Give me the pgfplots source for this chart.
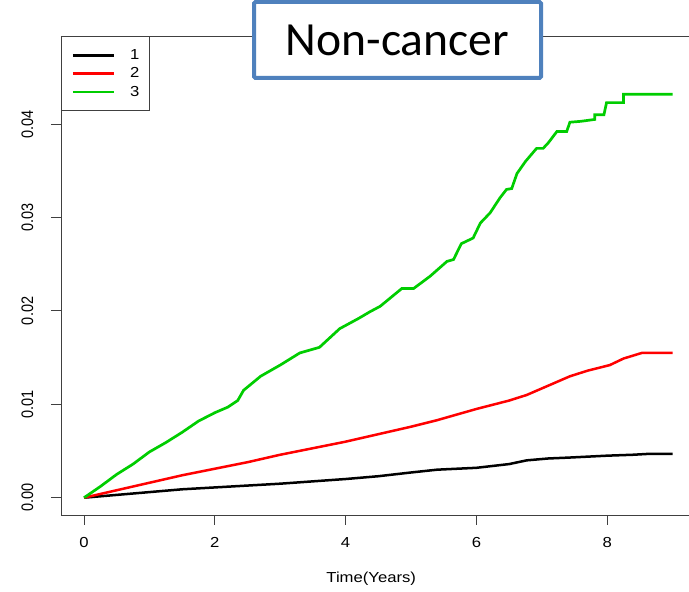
\documentclass[border=0pt]{standalone}
\usepackage{graphicx}
\usepackage{pgfplots}
\pgfplotsset{compat=1.18}
\usepackage{fontspec}
\setmainfont{Liberation Sans}
\newfontfamily\carlito{Carlito}
\definecolor{rgreen}{RGB}{0,205,0}
\definecolor{tblue}{RGB}{79,129,189}
\definecolor{axgray}{RGB}{64,64,64}
\newcommand{\sx}[1]{\scalebox{1.15}[1]{#1}}
\newcommand{\sy}[1]{\scalebox{1}[1.15]{#1}}
\newcommand{\lfont}{\fontsize{14.5bp}{17bp}\selectfont}
\begin{document}
\begin{tikzpicture}
\path[use as bounding box] (0,0) rectangle (689bp,592bp);
\begin{axis}[
  at={(61bp,77bp)}, anchor=south west, scale only axis,
  width=628bp, height=478.5bp,
  xmin=-0.352, xmax=9.251, ymin=-0.001852, ymax=0.04938,
  scaled y ticks=false, scaled x ticks=false,
  axis x line*=box, axis y line*=left,
  axis line style={axgray, line width=0.9bp},
  tick style={axgray, line width=0.9bp},
  tick align=outside, major tick length=10bp,
  xtick pos=left, ytick pos=left,
  xtick={0,2,4,6,8}, xticklabels={\sx{0},\sx{2},\sx{4},\sx{6},\sx{8}},
  ytick={0,0.01,0.02,0.03,0.04},
  yticklabels={\sy{0.00},\sy{0.01},\sy{0.02},\sy{0.03},\sy{0.04}},
  ticklabel style={font=\lfont},
  xticklabel style={anchor=center, yshift=-17.3bp},
  yticklabel style={anchor=center, xshift=-23.7bp, rotate=90},
  xlabel={\sx{Time(Years)}},
  xlabel style={at={(axis description cs:0.494,-0.134)}, anchor=center, font=\lfont},
  legend style={at={(rel axis cs:0,1)}, anchor=north west, draw=axgray, line width=0.9bp,
    inner xsep=10bp, inner ysep=9.2bp, row sep=0pt, column sep=15bp,
    nodes={inner sep=0pt, minimum height=18.3bp, font=\lfont}},
  legend cell align=left,
  legend image code/.code={\path (-5bp,0bp) -- (36bp,0bp); \draw[#1, line width=2.6bp] (0bp,0bp) -- (36bp,0bp);},
]
\addplot[black, line width=2.5bp] coordinates {
(0,0) (0.5,0.0003) (1,0.0006) (1.5,0.0009) (2,0.0011) (2.5,0.0013) (3,0.0015)
(3.5,0.00175) (4,0.0020) (4.5,0.0023) (5,0.0027) (5.4,0.0030) (6,0.0032)
(6.5,0.0036) (6.77,0.0040) (7.1,0.0042) (7.43,0.0043) (8,0.0045) (8.4,0.0046)
(8.65,0.0047) (9,0.0047)};
\addlegendentry{\sx{1}}
\addplot[red, line width=2.5bp] coordinates {
(0,0) (0.5,0.0008) (1,0.0016) (1.5,0.0024) (2,0.0031) (2.5,0.0038) (3,0.0046)
(3.5,0.0053) (4,0.0060) (4.5,0.0068) (5,0.0076) (5.4,0.0083) (6,0.0095)
(6.5,0.0104) (6.77,0.0110) (7.1,0.0120) (7.43,0.0130) (7.7,0.0136) (8.04,0.0142)
(8.25,0.0149) (8.53,0.0155) (9,0.0155)};
\addlegendentry{\sx{2}}
\addplot[rgreen, line width=2.7bp] coordinates {
(0,0) (0.25,0.0012) (0.5,0.0025) (0.75,0.0036) (1.0,0.0049) (1.25,0.0059)
(1.5,0.0070) (1.75,0.0082) (2.0,0.0091) (2.2,0.0097) (2.35,0.0104) (2.44,0.0115)
(2.7,0.0130) (3.0,0.0142) (3.3,0.0155) (3.6,0.0161) (3.91,0.0181) (4.2,0.0192)
(4.37,0.0199) (4.53,0.0205) (4.86,0.0224) (5.04,0.0224) (5.29,0.0237)
(5.55,0.0253) (5.65,0.0255) (5.77,0.0272) (5.95,0.0278) (6.06,0.0294)
(6.21,0.0305) (6.36,0.0321) (6.46,0.0330) (6.54,0.0331) (6.62,0.0347)
(6.75,0.0360) (6.92,0.0374) (7.02,0.0374) (7.1,0.0380) (7.23,0.0392)
(7.38,0.0392) (7.43,0.0402) (7.6,0.0403) (7.81,0.0405) (7.81,0.0410)
(7.95,0.0410) (7.99,0.0423) (8.25,0.0423) (8.25,0.0432) (9.0,0.0432)};
\addlegendentry{\sx{3}}
\end{axis}
\node[draw=tblue, line width=4bp, rounded corners=1.5bp, fill=white,
  minimum width=287bp, minimum height=76bp, inner sep=0pt,
  font=\carlito\fontsize{47.6bp}{50bp}\selectfont] at (397.5bp,552bp) {\raisebox{-2bp}{Non-cancer}};
\end{tikzpicture}
\end{document}
